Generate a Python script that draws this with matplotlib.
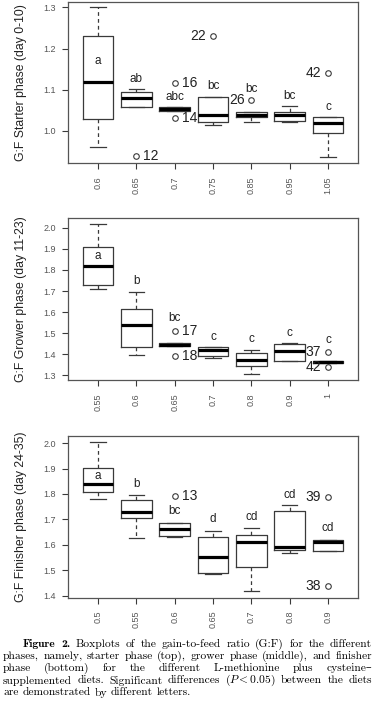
import matplotlib
matplotlib.use("Agg")
import matplotlib.pyplot as plt
from matplotlib.font_manager import FontProperties

plt.rcParams["mathtext.fontset"] = "cm"
plt.rcParams["font.family"] = ["Liberation Sans", "DejaVu Sans"]

# ── data ─────────────────────────────────────────────────────────────────────
starter_doses = ["0.6", "0.65", "0.7", "0.75", "0.85", "0.95", "1.05"]
starter_lo  = [0.960, 1.057, 1.049, 1.014, 1.023, 1.022, 0.938]
starter_q1  = [1.030, 1.057, 1.049, 1.023, 1.033, 1.025, 0.994]
starter_med = [1.119, 1.081, 1.054, 1.039, 1.039, 1.040, 1.019]
starter_q3  = [1.231, 1.094, 1.059, 1.082, 1.046, 1.046, 1.035]
starter_hi  = [1.300, 1.103, 1.059, 1.082, 1.046, 1.061, 1.035]
starter_out = [[], [(0.939, "12", "r")], [(1.117, "16", "r"), (1.031, "14", "r")],
               [(1.230, "22", "l")], [(1.074, "26", "l")], [], [(1.141, "42", "l")]]
starter_letters  = ["a", "ab", "abc", "bc", "bc", "bc", "c"]
starter_letter_y = [1.171, 1.126, 1.082, 1.108, 1.103, 1.086, 1.059]

grower_doses = ["0.55", "0.6", "0.65", "0.7", "0.8", "0.9", "1"]
grower_lo  = [1.708, 1.398, 1.438, 1.383, 1.308, 1.368, 1.361]
grower_q1  = [1.730, 1.433, 1.438, 1.392, 1.344, 1.368, 1.361]
grower_med = [1.819, 1.537, 1.446, 1.419, 1.375, 1.416, 1.363]
grower_q3  = [1.911, 1.617, 1.454, 1.435, 1.406, 1.451, 1.366]
grower_hi  = [2.019, 1.697, 1.454, 1.435, 1.422, 1.454, 1.366]
grower_out = [[], [], [(1.511, "17", "r"), (1.394, "18", "r")], [], [], [],
              [(1.413, "37", "l"), (1.340, "42", "l")]]
grower_letters  = ["a", "b", "bc", "c", "c", "c", "c"]
grower_letter_y = [1.868, 1.748, 1.570, 1.483, 1.473, 1.503, 1.467]

finisher_doses = ["0.5", "0.55", "0.6", "0.65", "0.7", "0.8", "0.9"]
finisher_lo  = [1.781, 1.626, 1.631, 1.485, 1.418, 1.569, 1.577]
finisher_q1  = [1.808, 1.707, 1.636, 1.488, 1.514, 1.578, 1.577]
finisher_med = [1.840, 1.729, 1.662, 1.551, 1.610, 1.590, 1.613]
finisher_q3  = [1.903, 1.777, 1.687, 1.630, 1.639, 1.735, 1.620]
finisher_hi  = [2.006, 1.795, 1.687, 1.655, 1.666, 1.756, 1.620]
finisher_out = [[], [], [(1.791, "13", "r")], [], [], [],
                [(1.788, "39", "l"), (1.439, "38", "l")]]
finisher_letters  = ["a", "b", "bc", "d", "cd", "cd", "cd"]
finisher_letter_y = [1.872, 1.840, 1.733, 1.700, 1.711, 1.798, 1.668]

EDGE = "#3a3a3a"
W_PX, H_PX = 375, 722


def _axes_rect(left, top, right, bottom):
    return [left / W_PX, 1 - bottom / H_PX, (right - left) / W_PX, (bottom - top) / H_PX]


def _panel(ax, doses, lo, q1, med, q3, hi, outliers, letters, letter_y,
           ylabel, yticks, ylim):
    stats = [dict(whislo=a, q1=b, med=c, q3=d, whishi=e, fliers=[v for v, _, _ in o])
             for a, b, c, d, e, o in zip(lo, q1, med, q3, hi, outliers)]
    ax.bxp(stats, widths=0.8, capwidths=0.4,
           boxprops=dict(color=EDGE, lw=0.9),
           whiskerprops=dict(color=EDGE, lw=0.9, ls=(0, (3, 2.5))),
           capprops=dict(color=EDGE, lw=0.9),
           medianprops=dict(color="black", lw=2.3, solid_capstyle="butt"),
           flierprops=dict(marker="o", mfc="none", mec=EDGE, ms=4, mew=0.8))
    for i, o in enumerate(outliers, start=1):
        for v, lab, side in o:
            ax.annotate(lab, (i, v), xytext=(5 if side == "r" else -5, 0),
                        textcoords="offset points", ha="left" if side == "r" else "right",
                        va="center", fontsize=10, color="#222222")
    for i, (lab, y) in enumerate(zip(letters, letter_y), start=1):
        ax.text(i, y, lab, ha="center", va="center", fontsize=8.5, color="#222222")
    ax.set_xlim(0.22, 7.78)
    ax.set_ylim(*ylim)
    ax.set_xticks(range(1, len(doses) + 1))
    ax.set_xticklabels(doses, rotation=90, fontsize=6.5, color="#555555")
    ax.set_yticks(yticks)
    ax.set_yticklabels([f"{t:.1f}" for t in yticks], fontsize=6.5, color="#555555")
    ax.tick_params(axis="both", length=4.5, width=0.8, color=EDGE)
    ax.tick_params(axis="x", pad=5)
    ax.tick_params(axis="y", pad=4)
    for s in ax.spines.values():
        s.set_color("#555555")
        s.set_linewidth(0.9)
    ax.set_ylabel(ylabel, fontsize=8.8, color="#222222")
    ax.yaxis.set_label_coords(-0.141, 0.5)


fig = plt.figure(figsize=(W_PX / 100, H_PX / 100), dpi=100)

ax1 = fig.add_axes(_axes_rect(68, 1.7, 358, 163.3))
_panel(ax1, starter_doses, starter_lo, starter_q1, starter_med, starter_q3, starter_hi,
       starter_out, starter_letters, starter_letter_y, "G:F Starter phase (day 0-10)",
       [1.0, 1.1, 1.2, 1.3], (0.9216, 1.3137))

ax2 = fig.add_axes(_axes_rect(68, 218.3, 358, 380))
_panel(ax2, grower_doses, grower_lo, grower_q1, grower_med, grower_q3, grower_hi,
       grower_out, grower_letters, grower_letter_y, "G:F Grower phase (day 11-23)",
       [1.3, 1.4, 1.5, 1.6, 1.7, 1.8, 1.9, 2.0], (1.278, 2.045))

ax3 = fig.add_axes(_axes_rect(68, 435.5, 358, 597.5))
_panel(ax3, finisher_doses, finisher_lo, finisher_q1, finisher_med, finisher_q3, finisher_hi,
       finisher_out, finisher_letters, finisher_letter_y, "G:F Finisher phase (day 24-35)",
       [1.4, 1.5, 1.6, 1.7, 1.8, 1.9, 2.0], (1.393, 2.030))

# ── caption, justified word by word ──────────────────────────────────────────
cap_size = 8.3
rm = FontProperties(family=["cmr10", "DejaVu Serif"], size=cap_size)
bf = FontProperties(family=["cmb10", "DejaVu Serif"], size=cap_size)

line4 = ("supplemented diets. Significant differences ($P<0.05$) "
         "between the diets").split()
caption_lines = [
    [("Figure", bf), ("2.", bf)] + [(w, rm) for w in
        "Boxplots of the gain-to-feed ratio (G:F) for the different".split()],
    [(w, rm) for w in
        "phases, namely, starter phase (top), grower phase (middle), and finisher".split()],
    [(w, rm) for w in
        "phase (bottom) for the different L-methionine plus cysteine\u2013".split()],
    [(w, rm) for w in line4],
    [(w, rm) for w in "are demonstrated by different letters.".split()],
]
line_y = [644, 656, 668, 680.5, 692.5]
line_x0 = [23, 3, 3, 3, 3]
line_x1 = 372

fig.canvas.draw()
renderer = fig.canvas.get_renderer()
space = fig.text(0, 0, "a a", fontproperties=rm)
aa = fig.text(0, 0, "aa", fontproperties=rm)
space_w = space.get_window_extent(renderer).width - aa.get_window_extent(renderer).width
space.remove()
aa.remove()

for k, (words, y, x0) in enumerate(zip(caption_lines, line_y, line_x0)):
    arts = [fig.text(0, 1 - y / H_PX, w, fontproperties=fp, va="center", ha="left")
            for w, fp in words]
    widths = [a.get_window_extent(renderer).width for a in arts]
    if k < len(caption_lines) - 1:
        gap = ((line_x1 - x0) - sum(widths)) / (len(arts) - 1)
    else:
        gap = space_w
    x = x0
    for a, w in zip(arts, widths):
        a.set_x(x / W_PX)
        x += w + gap

fig.savefig("out.png", dpi=100)
